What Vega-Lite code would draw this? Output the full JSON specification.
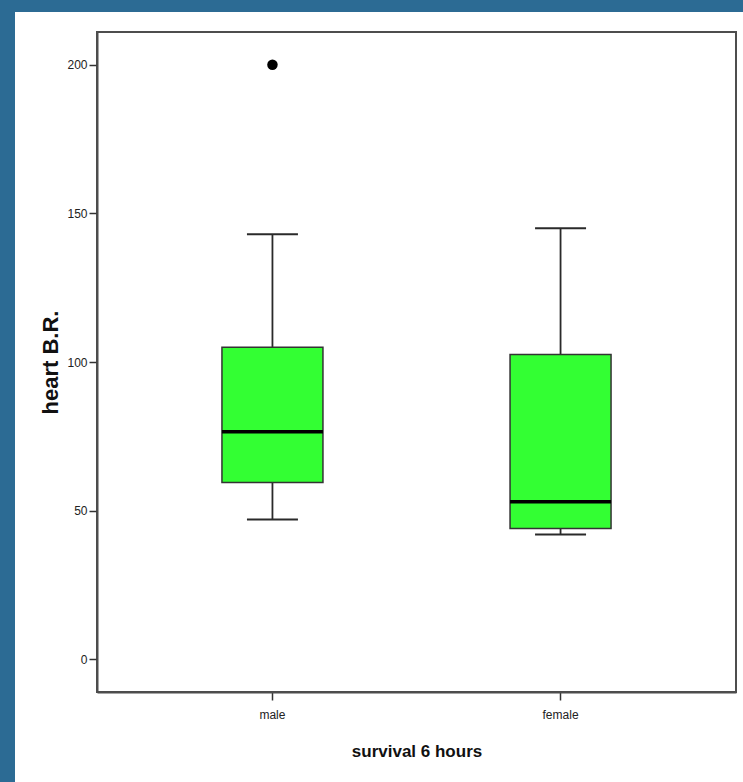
{
  "$schema": "https://vega.github.io/schema/vega-lite/v6.json",
  "background": "white",
  "padding": 0,
  "config": {"view": {"stroke": null}, "concat": {"spacing": 0}},
  "datasets": {
    "box": [
      {"group": "male", "lower": 47, "q1": 59.5, "median": 76.5, "q3": 105, "upper": 143, "outlier": 200},
      {"group": "female", "lower": 42, "q1": 44, "median": 53, "q3": 102.5, "upper": 145, "outlier": null}
    ]
  },
  "spacing": 0,
  "hconcat": [
    {"width": 15, "height": 782, "view": {"fill": "#2c6b94", "stroke": null}, "data": {"values": []}, "mark": "point"},
    {
      "spacing": 19,
      "vconcat": [
        {"width": 728, "height": 12, "view": {"fill": "#2c6b94", "stroke": null}, "data": {"values": []}, "mark": "point"},
        {
          "spacing": 0,
          "hconcat": [
            {"width": 23, "height": 10, "view": {"stroke": null}, "data": {"values": []}, "mark": "point"},
            {
              "width": 639,
              "height": 660,
              "data": {"name": "box"},
              "view": {"stroke": "#4d4d4d", "strokeWidth": 2},
              "encoding": {
                "x": {
                  "field": "group", "type": "nominal", "sort": ["male", "female"],
                  "scale": {"paddingInner": 0, "paddingOuter": 0.109},
                  "axis": {
                    "title": "survival 6 hours", "labelAngle": 0,
                    "tickSize": 8, "tickColor": "#333333", "tickWidth": 1.5,
                    "domainColor": "#4d4d4d", "domainWidth": 2,
                    "labelFont": "'Liberation Sans', Arial, sans-serif",
                    "labelFontSize": 12, "labelColor": "#222222", "labelPadding": 9,
                    "titleFont": "'Liberation Sans', Arial, sans-serif",
                    "titleFontSize": 17, "titleFontWeight": "bold", "titleColor": "#111111", "titlePadding": 23
                  }
                }
              },
              "layer": [
                {
                  "mark": {"type": "rule", "color": "#2a2a2a", "strokeWidth": 1.8},
                  "encoding": {
                    "y": {
                      "field": "lower", "type": "quantitative", "title": "heart B.R.",
                      "scale": {"domain": [-11, 211], "nice": false, "zero": false},
                      "axis": {
                        "values": [0, 50, 100, 150, 200], "grid": false,
                        "tickSize": 8, "tickColor": "#333333", "tickWidth": 1.5,
                        "domainColor": "#4d4d4d", "domainWidth": 2,
                        "labelFont": "'Liberation Sans', Arial, sans-serif",
                        "labelFontSize": 12, "labelColor": "#222222", "labelPadding": 2,
                        "minExtent": 27, "maxExtent": 27,
                        "titleFont": "'Liberation Sans', Arial, sans-serif",
                        "titleFontSize": 22, "titleFontWeight": "bold", "titleColor": "#111111", "titlePadding": 8
                      }
                    },
                    "y2": {"field": "upper"}
                  }
                },
                {
                  "mark": {"type": "bar", "size": 101, "fill": "#33ff33", "stroke": "#333333", "strokeWidth": 1.5, "opacity": 1},
                  "encoding": {
                    "y": {"field": "q1", "type": "quantitative", "title": "heart B.R."},
                    "y2": {"field": "q3"}
                  }
                },
                {
                  "mark": {"type": "tick", "size": 101, "thickness": 3.5, "color": "#000000", "opacity": 1},
                  "encoding": {"y": {"field": "median", "type": "quantitative", "title": "heart B.R."}}
                },
                {
                  "mark": {"type": "tick", "size": 51, "thickness": 2, "color": "#2a2a2a", "opacity": 1},
                  "encoding": {"y": {"field": "lower", "type": "quantitative", "title": "heart B.R."}}
                },
                {
                  "mark": {"type": "tick", "size": 51, "thickness": 2, "color": "#2a2a2a", "opacity": 1},
                  "encoding": {"y": {"field": "upper", "type": "quantitative", "title": "heart B.R."}}
                },
                {
                  "mark": {"type": "point", "filled": true, "color": "#000000", "size": 110, "opacity": 1},
                  "encoding": {"y": {"field": "outlier", "type": "quantitative", "title": "heart B.R."}}
                }
              ]
            }
          ]
        }
      ]
    }
  ]
}
